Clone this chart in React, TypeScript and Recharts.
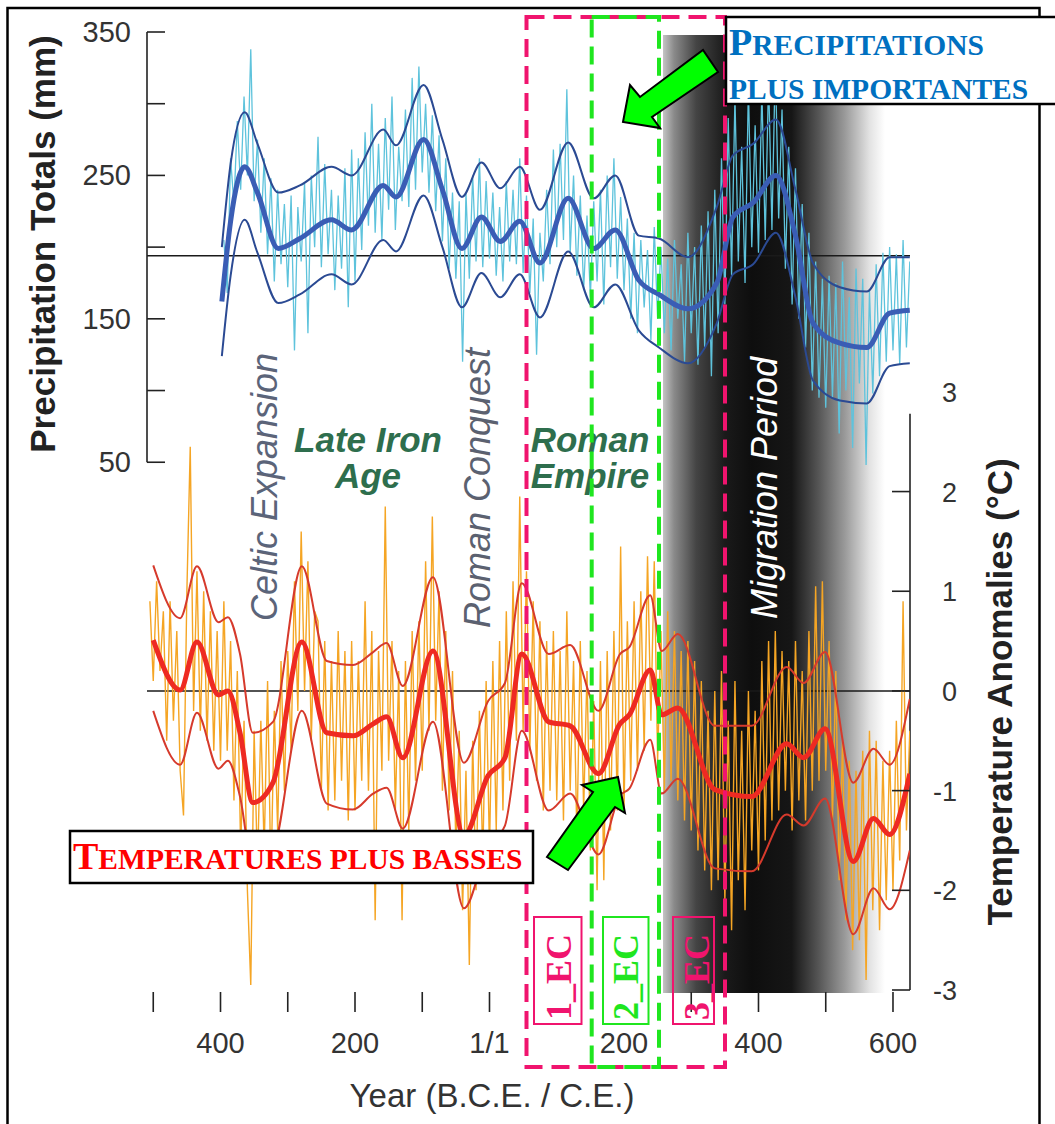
import React from "react";
import {
  ComposedChart,
  Line,
  XAxis,
  YAxis,
  ReferenceLine,
  ReferenceArea,
} from "recharts";

// ---------- data ----------

// raw annual-ish series, sampled every 5 years
const RAW_STEP = 5;
const precipRawStart = -395;
const precipRaw = [
  205, 168, 262, 230, 288, 240, 305, 250, 338, 232,
  275, 210, 262, 195, 248, 176, 240, 188, 230, 172,
  236, 128, 228, 190, 245, 140, 250, 200, 277, 186,
  258, 195, 240, 170, 236, 185, 255, 158, 268, 176,
  262, 198, 280, 215, 300, 210, 272, 205, 290, 226,
  305, 212, 270, 232, 296, 228, 318, 240, 326, 252,
  300, 238, 292, 225, 278, 204, 262, 185, 238, 178,
  232, 120, 238, 178, 250, 190, 262, 186, 246, 192,
  238, 180, 228, 176, 246, 190, 240, 188, 262, 182,
  236, 168, 220, 125, 210, 176, 240, 188, 268, 200,
  272, 205, 310, 196, 250, 180, 236, 170, 222, 165,
  232, 176, 240, 160, 250, 186, 262, 178, 235, 170,
  220, 150, 210, 140, 205, 158, 198, 135, 214, 150,
  200, 140, 192, 128, 205, 150, 188, 120, 210, 140,
  200, 118, 215, 130, 225, 110, 240, 140, 262, 160,
  290, 180, 305, 190, 270, 175, 312, 200, 285, 196,
  310, 205, 318, 212, 330, 220, 296, 185, 270, 160,
  255, 150, 230, 130, 210, 100, 190, 95, 178, 88,
  180, 95, 175, 70, 190, 100, 165, 60, 185, 105,
  178, 48, 170, 98, 188, 110, 196, 120, 200, 128,
  195, 118, 205, 130, 190,
];

const tempRawStart = -505;
const tempRaw = [
  0.9, 0.1, 1.1, 0.2, 0.8, -0.5, 0.9, -0.3, 0.6, -0.8,
  -1.25, 1.0, 2.45, -0.2, 1.2, -0.4, 1.0, -0.5, 0.8, -0.6,
  0.6, -0.7, 0.9, -0.6, 0.5, -1.1, 0.2, -1.6, -0.3, -2.0,
  -2.95, -0.4, -1.8, -0.3, -1.6, 0.1, -1.9, -0.2, -1.4, 0.3,
  -1.0, 0.4, -0.6, 1.1, -0.2, 1.6, 0.0, 1.3, -0.5, 0.8,
  0.7, -1.0, 0.5, -1.2, 0.3, -1.1, 0.6, -0.9, 0.4, -1.3,
  0.5, -1.2, 0.3, -0.9, 0.9, -1.0, 0.6, -2.3, 0.4, -0.8,
  1.85, -0.7, 0.5, -1.2, 0.2, -2.3, 0.3, -1.4, 0.6, -0.9,
  0.7, -0.8, 1.3, -0.4, 1.75, -0.3, 1.0, -1.0, 0.6, -1.2,
  0.2, -1.6, -0.4, -2.2, -0.8, -2.75, -0.5, -2.0, -0.2, -1.7,
  0.1, -1.6, 0.3, -1.4, 0.5, -1.2, 0.8, -0.9, 1.1, -0.5,
  1.95, -0.4, 1.2, -0.6, 0.9, -0.9, 0.7, -1.2, 0.5, -1.0,
  0.6, -1.1, 0.4, -1.3, 0.8, -1.0, 0.3, -1.5, 0.5, -1.2,
  0.2, -1.6, -0.1, -2.0, 0.3, -1.9, 0.4, -1.4, 0.6, -1.2,
  1.45, -1.2, 0.7, -0.9, 0.9, -0.8, 1.0, -0.6, 1.35, -0.3,
  1.3, -0.7, 0.6, -1.0, 0.8, -0.9, 0.6, -1.1, 0.4, -1.3,
  0.5, -1.4, 0.3, -1.6, 0.1, -1.8, -0.2, -2.0, 0.0, -1.9,
  0.2, -2.1, -0.3, -2.4, 0.1, -1.9, -0.4, -2.2, 0.0, -1.6,
  -0.2, -1.8, 0.3, -1.5, 0.5, -1.3, 0.6, -1.2, 0.4, -1.0,
  0.3, -1.4, 0.5, -1.1, 0.2, -1.3, 0.6, -1.0, 1.05, -0.9,
  1.1, -0.8, 0.5, -1.3, 0.2, -1.9, -0.5, -2.3, -0.7, -2.6,
  -0.8, -2.5, -0.6, -2.9, -0.4, -2.2, -0.5, -2.4, -0.7, -2.1,
  -0.6, -2.0, -0.3, -1.7, 0.9, -1.4, -0.4,
];

// smoothed precipitation (mean + bounds)
const precipYears = [
  -398, -385, -364, -345, -314, -282, -235, -205, -158, -139, -98, -70, -41,
  -12, 16, 45, 75, 117, 155, 187, 222, 252, 295, 338, 362, 392, 426, 455, 481,
  521, 561, 595, 625,
];
const precipMean = [
  162, 218, 256, 238, 199, 206, 219, 212, 243, 235, 275, 240, 199,
  221, 204, 218, 189, 234, 199, 212, 177, 167, 157, 175, 221, 231, 250, 208, 147,
  133, 130, 154, 156,
];
const precipUpper = [
  200, 258, 294, 272, 238, 243, 256, 250, 282, 271, 313, 275, 235,
  259, 241, 256, 226, 273, 234, 250, 208, 206, 193, 228, 264, 272, 289, 240, 189,
  172, 169, 193, 193,
];
const precipLower = [
  124, 180, 219, 196, 161, 167, 181, 174, 205, 197, 236, 200, 158,
  182, 165, 181, 151, 197, 158, 174, 142, 130, 119, 147, 181, 188, 210, 165, 107,
  93, 91, 117, 119,
];

// smoothed temperature anomalies (mean + bounds)
const tempYears = [
  -500, -460, -435, -403, -389, -371, -352, -322, -279, -242, -203, -173, -153,
  -129, -84, -38, -2, 23, 48, 88, 120, 162, 194, 208, 239, 256, 280, 335, 390,
  442, 467, 499, 541, 571, 595, 625,
];
const tempMean = [
  0.51, 0.01, 0.49, -0.04, 0.0, -0.42, -1.12, -0.92, 0.49, -0.42, -0.45, -0.33, -0.26,
  -0.67, 0.4, -1.45, -0.85, -0.67, 0.37, -0.31, -0.35, -0.83, -0.33, -0.24, 0.21, -0.24, -0.17, -0.99, -1.06,
  -0.53, -0.67, -0.38, -1.71, -1.28, -1.44, -0.83,
];
const tempUpper = [
  1.26, 0.73, 1.25, 0.69, 0.74, 0.37, -0.42, -0.31, 1.25, 0.3, 0.26, 0.39, 0.48,
  0.05, 1.14, -0.72, -0.1, 0.08, 1.08, 0.37, 0.46, -0.2, 0.37, 0.44, 0.96, 0.4, 0.57, -0.35, -0.35,
  0.24, 0.08, 0.39, -0.92, -0.58, -0.74, -0.08,
];
const tempLower = [
  -0.2, -0.74, -0.22, -0.78, -0.7, -1.06, -1.75, -1.6, -0.2, -1.13, -1.19, -1.03, -0.97,
  -1.38, -0.31, -2.18, -1.55, -1.35, -0.4, -1.2, -1.03, -1.64, -1.05, -0.98, -0.49, -1.03, -0.88, -1.78, -1.81,
  -1.24, -1.35, -1.08, -2.44, -1.98, -2.19, -1.6,
];

const precipBaseline = 194;
const xTicks = [-500, -400, -300, -200, -100, 0, 100, 200, 300, 400, 500, 600];
const xTickLabels: Record<number, string> = { "-400": "400", "-200": "200", 0: "1/1", 200: "200", 400: "400", 600: "600" };
const precipTicks = [50, 100, 150, 200, 250, 300, 350];
const precipTickLabels = [50, 150, 250, 350];
const tempTicks = [-3, -2, -1, 0, 1, 2, 3];

// migration period band (years)
const migrationFrom = 258;
const migrationTo = 588;

const toRaw = (start: number, vals: number[]) => vals.map((v, i) => ({ year: start + i * RAW_STEP, v }));
const zip = (years: number[], vals: number[]) => years.map((year, i) => ({ year, v: vals[i] }));

const precipRawData = toRaw(precipRawStart, precipRaw);
const tempRawData = toRaw(tempRawStart, tempRaw);

// ---------- chart frame ----------
const X_MIN = -509.3;
const X_MAX = 625.3;
const SANS = "'Liberation Sans', Arial, Helvetica, sans-serif";
const SERIF = "'Liberation Serif', 'Times New Roman', serif";
const PINK = "#f0146e";
const GREEN = "#1fe61f";

function PrecipTick(props: any) {
  const { x, y, payload } = props;
  return (
    <g>
      <line x1={x} x2={x + 18} y1={y} y2={y} stroke="#222" strokeWidth={1.6} />
      {precipTickLabels.includes(payload.value) && (
        <text x={x - 16} y={y + 10} textAnchor="end" fontSize={29} fill="#333" fontFamily={SANS}>
          {payload.value}
        </text>
      )}
    </g>
  );
}

function TempTick(props: any) {
  const { x, y, payload } = props;
  return (
    <g>
      {payload.value < 3 && <line x1={x - 18} x2={x} y1={y} y2={y} stroke="#222" strokeWidth={1.6} />}
      <text x={x + 47} y={y + 10} textAnchor="end" fontSize={27} fill="#333" fontFamily={SANS}>
        {payload.value}
      </text>
    </g>
  );
}

function YearTick(props: any) {
  const { x, y, payload } = props;
  const label = xTickLabels[payload.value];
  return (
    <g>
      <line x1={x} x2={x} y1={y + 2} y2={y + 22} stroke="#222" strokeWidth={1.6} />
      {label && (
        <text x={x} y={y + 63} textAnchor="middle" fontSize={29} fill="#333" fontFamily={SANS}>
          {label}
        </text>
      )}
    </g>
  );
}

function Overlay() {
  return (
    <svg width={1055} height={1124} style={{ position: "absolute", left: 0, top: 0, pointerEvents: "none" }}>
      {/* outer frame */}
      <rect x={7.5} y={8} width={1032} height={1130} fill="none" stroke="#000" strokeWidth={2.5} />

      {/* period labels */}
      <text transform="translate(277,487) rotate(-90)" textAnchor="middle" fontSize={36} fontStyle="italic" fill="#5b6479" fontFamily={SANS}>
        Celtic Expansion
      </text>
      <text transform="translate(490,488) rotate(-90)" textAnchor="middle" fontSize={36} fontStyle="italic" fill="#5b6170" fontFamily={SANS}>
        Roman Conquest
      </text>
      <text transform="translate(777,488) rotate(-90)" textAnchor="middle" fontSize={36} fontStyle="italic" fill="#fff" fontFamily={SANS}>
        Migration Period
      </text>
      <g fontSize={35} fontStyle="italic" fontWeight="bold" fill="#2e6e4d" fontFamily={SANS} textAnchor="middle">
        <text x={368} y={452}>Late Iron</text>
        <text x={368} y={488}>Age</text>
        <text x={590} y={452}>Roman</text>
        <text x={590} y={488}>Empire</text>
      </g>

      {/* axis titles */}
      <text transform="translate(55,244) rotate(-90)" textAnchor="middle" fontSize={35} fontWeight="bold" fill="#222" fontFamily={SANS}>
        Precipitation Totals (mm)
      </text>
      <text transform="translate(1012,692) rotate(-90)" textAnchor="middle" fontSize={35} fontWeight="bold" fill="#222" fontFamily={SANS}>
        Temperature Anomalies (°C)
      </text>
      <text x={492} y={1107} textAnchor="middle" fontSize={33} fill="#333" fontFamily={SANS}>
        Year (B.C.E. / C.E.)
      </text>

      {/* century windows */}
      <rect x={526.5} y={17} width={198.5} height={1050} fill="none" stroke={PINK} strokeWidth={4} strokeDasharray="18 9" />
      <rect x={591.7} y={17} width={67.3} height={1050} fill="none" stroke={GREEN} strokeWidth={4} strokeDasharray="18 9" />

      {/* EC boxes */}
      <rect x={534} y={917} width={47.5} height={107} fill="#fff" stroke={PINK} strokeWidth={2} />
      <rect x={603} y={917} width={45.5} height={107} fill="#fff" stroke={GREEN} strokeWidth={2} />
      <rect x={673} y={917} width={41} height={107} fill="none" stroke={PINK} strokeWidth={2} />
      <g fontSize={36} fontWeight="bold" fontFamily={SERIF} textAnchor="middle">
        <text transform="translate(571,977) rotate(-90)" fill={PINK}>1_EC</text>
        <text transform="translate(638,977) rotate(-90)" fill={GREEN}>2_EC</text>
        <text transform="translate(709,977) rotate(-90)" fill={PINK}>3_EC</text>
      </g>

      {/* arrows */}
      <polygon points="623,122 630,85 640,97 703,50 718,72 652,117 660,128" fill="#00ff00" stroke="#000" strokeWidth={2} strokeLinejoin="miter" />
      <polygon points="618,777 582,785 593,792 547,857 568,870 615,807 625,813" fill="#00ff00" stroke="#000" strokeWidth={2} strokeLinejoin="miter" />

      {/* callout boxes */}
      <rect x={726} y={17} width={345} height={87} fill="#fff" stroke="#000" strokeWidth={2.5} />
      <g fontFamily={SERIF} fontWeight="bold" fill="#0070c0">
        <text x={729} y={55}>
          <tspan fontSize={38}>P</tspan>
          <tspan fontSize={29.5}>RECIPITATIONS</tspan>
        </text>
        <text x={729} y={99} fontSize={29.5}>PLUS IMPORTANTES</text>
      </g>
      <rect x={70} y={831} width={463} height={52} fill="#fff" stroke="#000" strokeWidth={2.5} />
      <text x={73} y={869} fontFamily={SERIF} fontWeight="bold" fill="#ff0000">
        <tspan fontSize={38}>T</tspan>
        <tspan fontSize={29.5}>EMPERATURES PLUS BASSES</tspan>
      </text>
    </svg>
  );
}

export default function App() {
  return (
    <div style={{ position: "relative", width: 1055, height: 1124, background: "#fff", overflow: "hidden" }}>
      <style>{"body{margin:0}"}</style>
      <ComposedChart width={1055} height={1124} margin={{ top: 32, right: 85, bottom: 74, left: 87 }}>
        <defs>
          <linearGradient id="migGrad" x1="0" y1="0" x2="1" y2="0">
            <stop offset="0%" stopColor="#c4c4c4" />
            <stop offset="5%" stopColor="#8a8a8a" />
            <stop offset="15%" stopColor="#444" />
            <stop offset="28%" stopColor="#1a1a1a" />
            <stop offset="40%" stopColor="#0e0e0e" />
            <stop offset="58%" stopColor="#161616" />
            <stop offset="70%" stopColor="#555" />
            <stop offset="82%" stopColor="#9a9a9a" />
            <stop offset="93%" stopColor="#e2e2e2" />
            <stop offset="100%" stopColor="#fff" />
          </linearGradient>
        </defs>
        <XAxis
          type="number"
          dataKey="year"
          domain={[X_MIN, X_MAX]}
          allowDataOverflow
          ticks={xTicks}
          interval={0}
          axisLine={false}
          tickLine={false}
          tickSize={0}
          tickMargin={0}
          height={60}
          tick={<YearTick />}
        />
        <YAxis
          yAxisId="p"
          orientation="left"
          type="number"
          domain={[-318, 350]}
          allowDataOverflow
          ticks={precipTicks}
          interval={0}
          width={60}
          axisLine={false}
          tickLine={false}
          tickSize={0}
          tickMargin={0}
          tick={<PrecipTick />}
        />
        <YAxis
          yAxisId="t"
          orientation="right"
          type="number"
          domain={[-3, 6.61]}
          allowDataOverflow
          ticks={tempTicks}
          interval={0}
          width={60}
          axisLine={false}
          tickLine={false}
          tickSize={0}
          tickMargin={0}
          tick={<TempTick />}
        />

        <ReferenceArea
          yAxisId="t"
          x1={migrationFrom}
          x2={migrationTo}
          y1={-3.03}
          y2={6.58}
          fill="url(#migGrad)"
          fillOpacity={1}
          stroke="none"
          ifOverflow="visible"
        />

        <ReferenceLine yAxisId="p" y={precipBaseline} stroke="#1a1a1a" strokeWidth={1.5} />
        <ReferenceLine yAxisId="t" y={0} stroke="#1a1a1a" strokeWidth={1.5} />
        <ReferenceLine
          yAxisId="p"
          segment={[{ x: X_MIN, y: 50 }, { x: X_MIN, y: 350 }]}
          stroke="#222"
          strokeWidth={1.6}
          ifOverflow="visible"
        />
        <ReferenceLine
          yAxisId="t"
          segment={[{ x: X_MAX, y: -3 }, { x: X_MAX, y: 2.78 }]}
          stroke="#222"
          strokeWidth={1.6}
          ifOverflow="visible"
        />

        <Line yAxisId="p" data={precipRawData} dataKey="v" type="linear" stroke="#5ec3dc" strokeWidth={1.3} dot={false} activeDot={false} isAnimationActive={false} />
        <Line yAxisId="t" data={tempRawData} dataKey="v" type="linear" stroke="#f5a524" strokeWidth={1.4} dot={false} activeDot={false} isAnimationActive={false} />

        <Line yAxisId="p" data={zip(precipYears, precipUpper)} dataKey="v" type="monotone" stroke="#2b4a93" strokeWidth={2} dot={false} activeDot={false} isAnimationActive={false} />
        <Line yAxisId="p" data={zip(precipYears, precipLower)} dataKey="v" type="monotone" stroke="#2b4a93" strokeWidth={2} dot={false} activeDot={false} isAnimationActive={false} />
        <Line yAxisId="p" data={zip(precipYears, precipMean)} dataKey="v" type="monotone" stroke="#3a5db5" strokeWidth={5} dot={false} activeDot={false} isAnimationActive={false} />

        <Line yAxisId="t" data={zip(tempYears, tempUpper)} dataKey="v" type="monotone" stroke="#d63a2c" strokeWidth={2} dot={false} activeDot={false} isAnimationActive={false} />
        <Line yAxisId="t" data={zip(tempYears, tempLower)} dataKey="v" type="monotone" stroke="#d63a2c" strokeWidth={2} dot={false} activeDot={false} isAnimationActive={false} />
        <Line yAxisId="t" data={zip(tempYears, tempMean)} dataKey="v" type="monotone" stroke="#ee2a22" strokeWidth={5} dot={false} activeDot={false} isAnimationActive={false} />
      </ComposedChart>
      <Overlay />
    </div>
  );
}
